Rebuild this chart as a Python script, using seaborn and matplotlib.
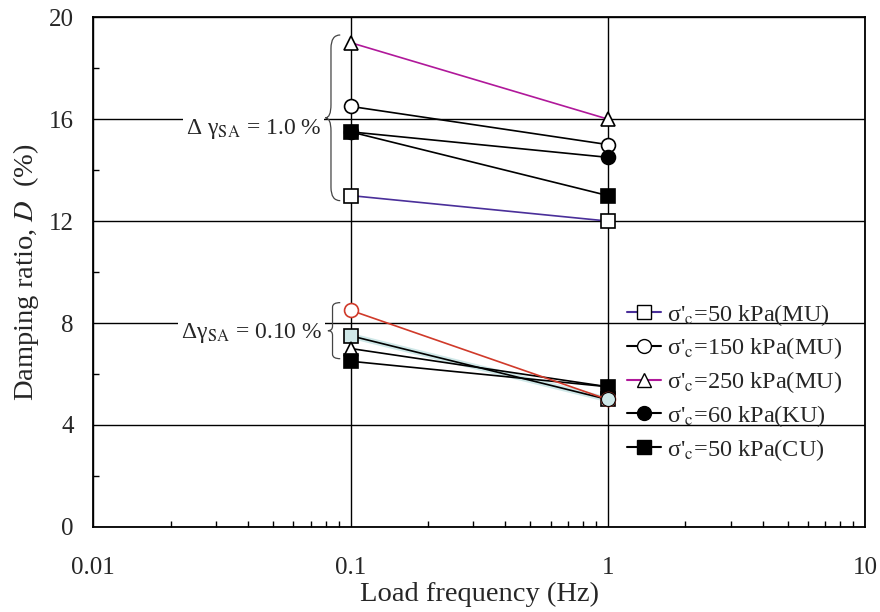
import numpy as np
import pandas as pd
import matplotlib.pyplot as plt
import seaborn as sns
from matplotlib.lines import Line2D
from matplotlib.path import Path
from matplotlib.patches import PathPatch
from matplotlib.ticker import AutoMinorLocator, LogLocator, NullFormatter
import matplotlib.transforms as mtransforms

# data
freqs = [0.1, 1.0]
# shear strain 1.0 %
hi_mu50 = [13.0, 12.0]
hi_mu150 = [16.5, 15.0]
hi_mu250 = [19.0, 16.0]
hi_ku60 = [15.5, 14.5]
hi_cu50 = [15.5, 13.0]
# shear strain 0.10 %
lo_mu150 = [8.5, 5.0]
lo_mu50 = [7.5, 5.0]
lo_mu250 = [7.0, 5.5]
lo_cu50 = [6.5, 5.5]

legend_labels = ["σ'$_{\\rm c}$=50 kPa(MU)", "σ'$_{\\rm c}$=150 kPa(MU)", "σ'$_{\\rm c}$=250 kPa(MU)",
                 "σ'$_{\\rm c}$=60 kPa(KU)", "σ'$_{\\rm c}$=50 kPa(CU)"]

sns.set_style('white')
plt.rcParams['font.family'] = ['Liberation Serif', 'DejaVu Serif']
plt.rcParams['mathtext.fontset'] = 'stix'

fig = plt.figure(figsize=(8.8, 6.12), dpi=100)
ax = fig.add_axes([0.106, 0.139, 0.877, 0.833])
ax.set_xscale('log')
ax.set_xlim(0.01, 10)
ax.set_ylim(0, 20)
ax.set_xticks([0.01, 0.1, 1, 10])
ax.set_xticklabels(['0.01', '0.1', '1', '10'])
ax.xaxis.set_minor_locator(LogLocator(base=10, subs=np.arange(2, 10)))
ax.xaxis.set_minor_formatter(NullFormatter())
ax.set_yticks([0, 4, 8, 12, 16, 20])
ax.yaxis.set_minor_locator(AutoMinorLocator(2))
ax.grid(True, which='major', color='black', lw=1)
ax.set_axisbelow(True)
for s in ax.spines.values():
    s.set_color('black')
    s.set_linewidth(1.3)
ax.tick_params(which='major', labelsize=18, direction='in', length=0)
ax.tick_params(which='minor', direction='in', length=4, width=1, color='black')
ax.tick_params(axis='x', which='major', pad=22)
ax.tick_params(axis='y', which='major', pad=14)
ax.tick_params(which='both', bottom=True, left=True)

purple = '#4a2f9a'
magenta = '#b0189a'
red = '#d03a2a'
cyan = '#cfe8e8'

# light cyan shadow line under the low-strain square series
sns.lineplot(x=freqs, y=lo_mu50, ax=ax, color=cyan, lw=4, zorder=2)

series = [
    (hi_mu50, purple, 's', 'white', 'black'),
    (hi_mu150, 'black', 'o', 'white', 'black'),
    (hi_mu250, magenta, '^', 'white', 'black'),
    (hi_ku60, 'black', 'o', 'black', 'black'),
    (hi_cu50, 'black', 's', 'black', 'black'),
    (lo_mu50, 'black', 's', cyan, 'black'),
    (lo_mu250, 'black', '^', 'white', 'black'),
    (lo_cu50, 'black', 's', 'black', 'black'),
    (lo_mu150, red, 'o', 'white', red),
]
for vals, lc, mk, mfc, mec in series:
    df = pd.DataFrame({'freq': freqs, 'D': vals})
    sns.lineplot(data=df, x='freq', y='D', ax=ax, color=lc, lw=1.2,
                 marker=mk, markersize=10, markerfacecolor=mfc,
                 markeredgecolor=mec, markeredgewidth=1.2, zorder=3)
# cyan circle at 1 Hz for the low-strain group
sns.lineplot(x=[1.0], y=[lo_mu50[1]], ax=ax, marker='o', markersize=10, lw=0,
             markerfacecolor=cyan, markeredgecolor='black', zorder=4)
ax.set_xlabel('Load frequency (Hz)', fontsize=20.5, labelpad=2)
ax.set_ylabel('Damping ratio, $D$  (%)', fontsize=20.5, labelpad=6)


def brace(ax, x, y0, y1, w=0.012):
    trans = mtransforms.blended_transform_factory(ax.transAxes, ax.transData)
    ym = (y0 + y1) / 2
    h = y1 - y0
    verts = [(x, y1), (x - w, y1), (x - w, y1 - 0.08 * h), (x - w, ym + 0.08 * h),
             (x - w, ym), (x - 1.6 * w, ym),
             (x - w, ym), (x - w, ym - 0.08 * h), (x - w, y0 + 0.08 * h),
             (x - w, y0), (x, y0)]
    codes = [Path.MOVETO, Path.CURVE3, Path.CURVE3, Path.LINETO,
             Path.CURVE3, Path.CURVE3,
             Path.CURVE3, Path.CURVE3, Path.LINETO,
             Path.CURVE3, Path.CURVE3]
    ax.add_patch(PathPatch(Path(verts, codes), transform=trans, fill=False,
                           lw=0.9, color='#444444', zorder=3, clip_on=False))


brace(ax, 0.32, 12.8, 19.3)
brace(ax, 0.32, 6.6, 8.8, w=0.010)

tr = mtransforms.blended_transform_factory(ax.transAxes, ax.transData)
bb = dict(facecolor='white', edgecolor='none', pad=2)
ax.text(0.208, 15.6, 'Δ γ$_{\\rm SA}$ = 1.0 %', transform=tr,
        ha='center', va='center', fontsize=17, bbox=bb, zorder=2)
ax.text(0.205, 7.6, 'Δγ$_{\\rm SA}$ = 0.10 %', transform=tr,
        ha='center', va='center', fontsize=17, bbox=bb, zorder=2)

handles = [
    Line2D([], [], color=purple, marker='s', mfc='white', mec='black', ms=10),
    Line2D([], [], color='black', marker='o', mfc='white', mec='black', ms=10),
    Line2D([], [], color=magenta, marker='^', mfc='white', mec='black', ms=10),
    Line2D([], [], color='black', marker='o', mfc='black', mec='black', ms=10),
    Line2D([], [], color='black', marker='s', mfc='black', mec='black', ms=10),
]
ax.legend(handles, legend_labels, loc='upper left', bbox_to_anchor=(0.67, 0.475),
          frameon=False, fontsize=17.5, handlelength=1.4, labelspacing=0.32,
          handletextpad=0.25, borderpad=0.2)

fig.savefig('out.png', dpi=100)
